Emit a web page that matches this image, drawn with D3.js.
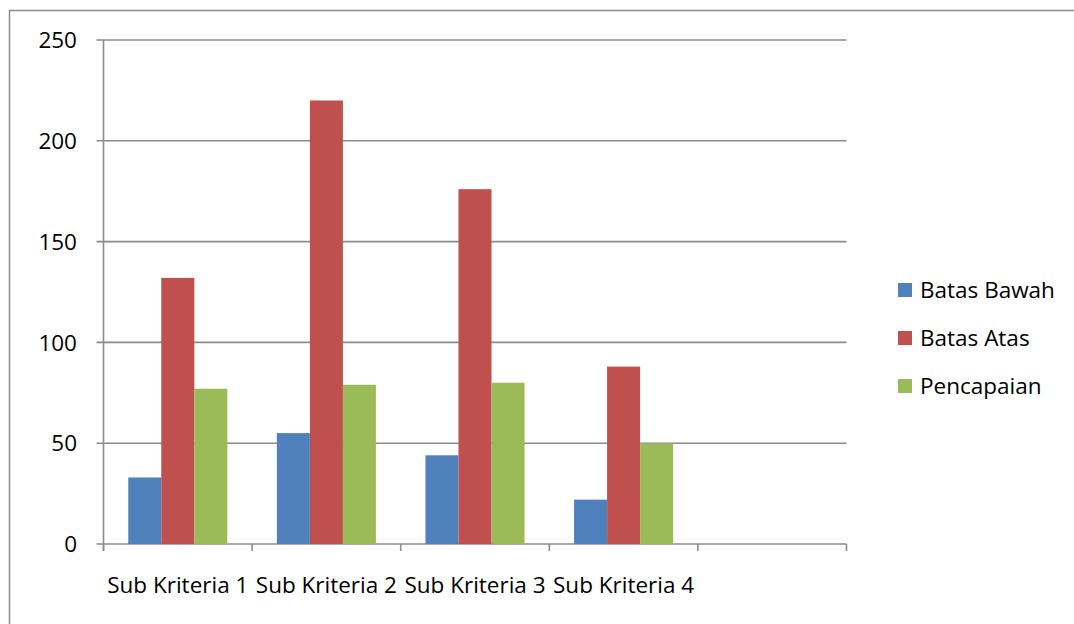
<!DOCTYPE html>
<html>
<head>
<meta charset="utf-8">
<script src="https://cdn.jsdelivr.net/npm/d3@7"></script>
<style>
  body { margin: 0; background: #fff; }
  text { font-family: "Open Sans", Lato, sans-serif; fill: #000; }
</style>
</head>
<body>
<svg id="chart" width="1074" height="624"></svg>
<script>
// values
const categories = ["Sub Kriteria 1", "Sub Kriteria 2", "Sub Kriteria 3", "Sub Kriteria 4"];
const batasBawah = [33, 55, 44, 22];
const batasAtas = [132, 220, 176, 88];
const pencapaian = [77, 79, 80, 50];
const seriesNames = ["Batas Bawah", "Batas Atas", "Pencapaian"];
const seriesColors = ["#4f81bd", "#c0504d", "#9bbb59"];
const yTicks = [0, 50, 100, 150, 200, 250];

const svg = d3.select("#chart");
const plotL = 103.5, plotR = 846.5, plotT = 40, plotB = 544;
const fontSize = 22.5;

// outer chart frame (runs off the picture on the right/bottom)
svg.append("rect")
  .attr("x", 9.5).attr("y", 10.5)
  .attr("width", 1100).attr("height", 700)
  .attr("fill", "none").attr("stroke", "#8a8a8a").attr("stroke-width", 1.5);

// excel left an empty fifth slot on the axis
const slots = categories.map((c, i) => "c" + i).concat(["c4"]);
const x = d3.scaleBand().domain(slots).range([plotL, plotR]);
const inner = d3.scaleBand().domain(seriesNames).range([0, x.bandwidth()]).paddingInner(0).paddingOuter(0.75);
const y = d3.scaleLinear().domain([0, 250]).range([plotB, plotT]);

// gridlines
svg.append("g")
  .selectAll("line")
  .data(yTicks)
  .join("line")
  .attr("x1", plotL - 7).attr("x2", plotR)
  .attr("y1", d => y(d)).attr("y2", d => y(d))
  .attr("stroke", "#8c8c8c").attr("stroke-width", 1.6);

// y axis line
svg.append("line")
  .attr("x1", plotL).attr("x2", plotL)
  .attr("y1", plotT).attr("y2", plotB + 7)
  .attr("stroke", "#8c8c8c").attr("stroke-width", 1.6);

// x tick marks at slot boundaries
const bounds = slots.map(s => x(s)).concat([plotR]);
svg.append("g")
  .selectAll("line")
  .data(bounds)
  .join("line")
  .attr("x1", d => d).attr("x2", d => d)
  .attr("y1", plotB).attr("y2", plotB + 7)
  .attr("stroke", "#8c8c8c").attr("stroke-width", 1.6);

// y labels
svg.append("g")
  .selectAll("text")
  .data(yTicks)
  .join("text")
  .attr("x", 77).attr("y", d => y(d))
  .attr("dy", "0.36em")
  .attr("text-anchor", "end")
  .attr("font-size", fontSize)
  .text(d => d);

// bars
const series = [batasBawah, batasAtas, pencapaian];
series.forEach((vals, si) => {
  svg.append("g")
    .selectAll("rect")
    .data(vals)
    .join("rect")
    .attr("x", (d, i) => x("c" + i) + inner(seriesNames[si]))
    .attr("width", inner.bandwidth())
    .attr("y", d => y(d))
    .attr("height", d => plotB - y(d))
    .attr("fill", seriesColors[si]);
});

// category labels
svg.append("g")
  .selectAll("text")
  .data(categories)
  .join("text")
  .attr("x", (d, i) => x("c" + i) + x.bandwidth() / 2)
  .attr("y", 593)
  .attr("text-anchor", "middle")
  .attr("font-size", fontSize)
  .text(d => d);

// legend
const legend = svg.append("g")
  .selectAll("g")
  .data(seriesNames)
  .join("g")
  .attr("transform", (d, i) => `translate(898, ${290 + i * 48})`);
legend.append("rect")
  .attr("x", 0).attr("y", -7)
  .attr("width", 14).attr("height", 14)
  .attr("fill", (d, i) => seriesColors[i]);
legend.append("text")
  .attr("x", 22).attr("y", 0)
  .attr("dy", "0.36em")
  .attr("font-size", fontSize)
  .text(d => d);
</script>
</body>
</html>
